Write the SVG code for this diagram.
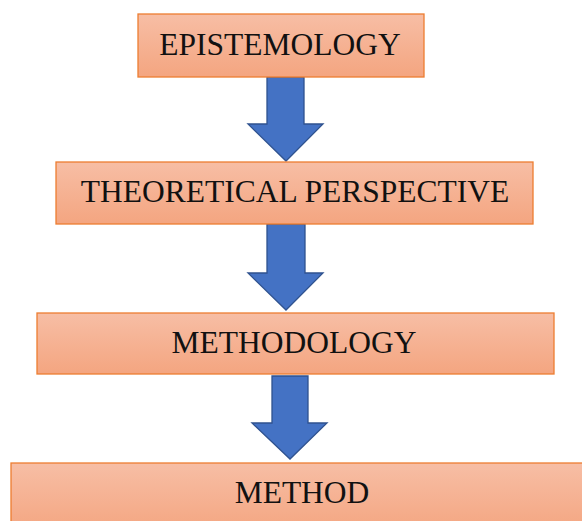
<svg xmlns="http://www.w3.org/2000/svg" width="582" height="521" viewBox="0 0 582 521">
<defs>
<linearGradient id="g" x1="0" y1="0" x2="0" y2="1">
<stop offset="0" stop-color="#F7BEA5"/>
<stop offset="1" stop-color="#F4A580"/>
</linearGradient>
</defs>
<style>
.box{fill:url(#g);stroke:#ED7D31;stroke-width:1.3}
.lbl{font-family:"Liberation Serif","Times New Roman",serif;font-size:31.5px;fill:#111;text-anchor:middle}
.arr{fill:#4472C4;stroke:#2F528F;stroke-width:1.3;stroke-linejoin:miter}
</style>
<rect width="582" height="521" fill="#fff"/>
<g id="connectors">
<polygon class="arr" points="267,77 304,77 304,124 323,124 286,161 248,124 267,124"/>
<polygon class="arr" points="267,224 305,224 305,273 323,273 286,310 248,273 267,273"/>
<polygon class="arr" points="272,376 308,376 308,423 327,423 290,459 252,423 272,423"/>
</g>
<g id="epistemology">
<rect class="box" x="138" y="14" width="286" height="63"/>
<text class="lbl" x="280" y="55">EPISTEMOLOGY</text>
</g>
<g id="theoretical-perspective">
<rect class="box" x="56" y="162" width="477" height="62"/>
<text class="lbl" x="295" y="202">THEORETICAL PERSPECTIVE</text>
</g>
<g id="methodology">
<rect class="box" x="37" y="313" width="517" height="61"/>
<text class="lbl" x="294" y="353">METHODOLOGY</text>
</g>
<g id="method">
<rect class="box" x="11" y="463" width="580" height="70"/>
<text class="lbl" x="302" y="503">METHOD</text>
</g>
</svg>
